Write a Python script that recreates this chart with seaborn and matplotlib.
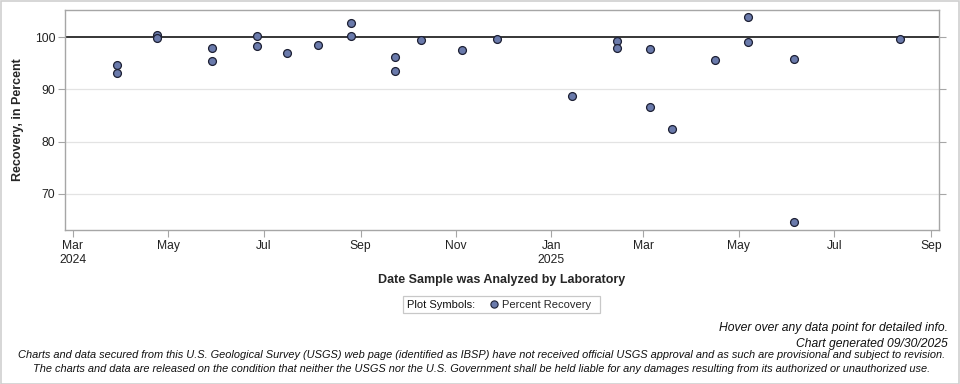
"""
Percent recovery of laboratory spike samples, USGS style scatter chart.
"""

import matplotlib
matplotlib.use('Agg')
import matplotlib.pyplot as plt
import matplotlib.dates as mdates
from matplotlib.lines import Line2D
from matplotlib.patches import Rectangle
import pandas as pd
import seaborn as sns

# Dates the samples were analyzed, and the percent recovered
analysis_dates = [
    '2024-03-29', '2024-03-29', '2024-04-24', '2024-04-24', '2024-05-29',
    '2024-05-29', '2024-06-27', '2024-06-27', '2024-07-16', '2024-08-05',
    '2024-08-26', '2024-08-26', '2024-09-23', '2024-09-23', '2024-10-10',
    '2024-11-05', '2024-11-27', '2025-01-14', '2025-02-12', '2025-02-12',
    '2025-03-05', '2025-03-05', '2025-03-19', '2025-04-16', '2025-05-07',
    '2025-05-07', '2025-06-05', '2025-06-05', '2025-08-12',
]
percent_recovery = [
    94.6, 93.2, 100.5, 99.9, 98.0,
    95.5, 100.3, 98.4, 96.9, 98.6,
    102.8, 100.3, 96.3, 93.6, 99.4,
    97.5, 99.7, 88.8, 99.2, 98.0,
    97.8, 86.6, 82.4, 95.7, 103.8,
    99.0, 95.9, 64.6, 99.6,
]
y_ticks = [70, 80, 90, 100]
reference_value = 100

df = pd.DataFrame({'date': pd.to_datetime(analysis_dates),
                   'recovery': percent_recovery})

sns.set_style('white')
plt.rcParams['font.family'] = ['Liberation Sans', 'DejaVu Sans']

point_color = '#6a7aab'
edge_color = '#1c1f33'
axis_grey = '#a6a6a6'

fig = plt.figure(figsize=(9.6, 3.84), dpi=100)
ax = fig.add_axes([65 / 960, 1 - 230 / 384, (939 - 65) / 960, (230 - 9.5) / 384])

# light horizontal grid and reference line at 100 percent
for yv in y_ticks:
    if yv != reference_value:
        ax.axhline(yv, color='#e3e3e3', lw=0.9, zorder=0)
ax.axhline(reference_value, color='black', lw=1.1, zorder=1)

sns.scatterplot(data=df, x='date', y='recovery', ax=ax, s=32,
                color=point_color, edgecolor=edge_color, linewidth=0.9,
                zorder=3, legend=False)

ax.set_ylim(63.1, 105.3)
ax.set_xlim(pd.Timestamp('2024-02-25'), pd.Timestamp('2025-09-06'))
ax.set_yticks(y_ticks)
ax.set_yticklabels([str(v) for v in y_ticks])


def month_label(value, pos):
    d = mdates.num2date(value)
    if d.month == 1 or pos == 0:
        return d.strftime('%b\n%Y')
    return d.strftime('%b')


ax.xaxis.set_major_locator(mdates.MonthLocator(bymonth=[1, 3, 5, 7, 9, 11]))
ax.xaxis.set_major_formatter(plt.FuncFormatter(month_label))

for side in ['left', 'right', 'top', 'bottom']:
    ax.spines[side].set_color(axis_grey)
    ax.spines[side].set_linewidth(1.0)

ax.tick_params(axis='x', bottom=True, direction='out', length=5,
               color=axis_grey, labelsize=8.7, pad=2, labelcolor='#222222')
ax.tick_params(axis='y', left=True, right=True, direction='out', length=5,
               color=axis_grey, labelsize=8.7, pad=2, labelcolor='#222222')

ax.set_xlabel('Date Sample was Analyzed by Laboratory', fontsize=9,
              fontweight='bold', labelpad=6)
ax.set_ylabel('Recovery, in Percent', fontsize=9, fontweight='bold',
              labelpad=8)

# legend box: frame, caption, then the symbol entry
fig.patches.append(Rectangle((403 / 960, 1 - 313.3 / 384), 197 / 960, 17.3 / 384,
                             transform=fig.transFigure, fill=False,
                             edgecolor='#c8c8c8', linewidth=0.9))
fig.text(407 / 960, 1 - 304.6 / 384, 'Plot Symbols:', ha='left', va='center',
         fontsize=8, color='#111111')
symbol = Line2D([], [], linestyle='', marker='o', markersize=5.2,
                markerfacecolor=point_color, markeredgecolor=edge_color,
                markeredgewidth=0.8)
fig.legend([symbol], ['Percent Recovery'], loc='center left',
           bbox_to_anchor=(491 / 960, 1 - 304.6 / 384), fontsize=8,
           frameon=False, handlelength=0.6, handletextpad=0.35,
           borderpad=0, borderaxespad=0)

fig.text(948 / 960, 1 - 328 / 384, 'Hover over any data point for detailed info.',
         ha='right', va='center', fontsize=8.7, style='italic', color='#111111')
fig.text(948 / 960, 1 - 344 / 384, 'Chart generated 09/30/2025',
         ha='right', va='center', fontsize=8.7, style='italic', color='#111111')
fig.text(482 / 960, 1 - 355.5 / 384,
         'Charts and data secured from this U.S. Geological Survey (USGS) web page '
         '(identified as IBSP) have not received official USGS approval and as such '
         'are provisional and subject to revision.',
         ha='center', va='center', fontsize=7.95, style='italic', color='#111111')
fig.text(481.5 / 960, 1 - 368.5 / 384,
         'The charts and data are released on the condition that neither the USGS '
         'nor the U.S. Government shall be held liable for any damages resulting '
         'from its authorized or unauthorized use.',
         ha='center', va='center', fontsize=7.95, style='italic', color='#111111')

# thin border around the whole picture
fig.patches.append(Rectangle((0.5 / 960, 0.5 / 384), 958.5 / 960, 382.5 / 384,
                             transform=fig.transFigure, fill=False,
                             edgecolor='#cfcfcf', linewidth=1.2))

fig.savefig('out.png', dpi=100)
